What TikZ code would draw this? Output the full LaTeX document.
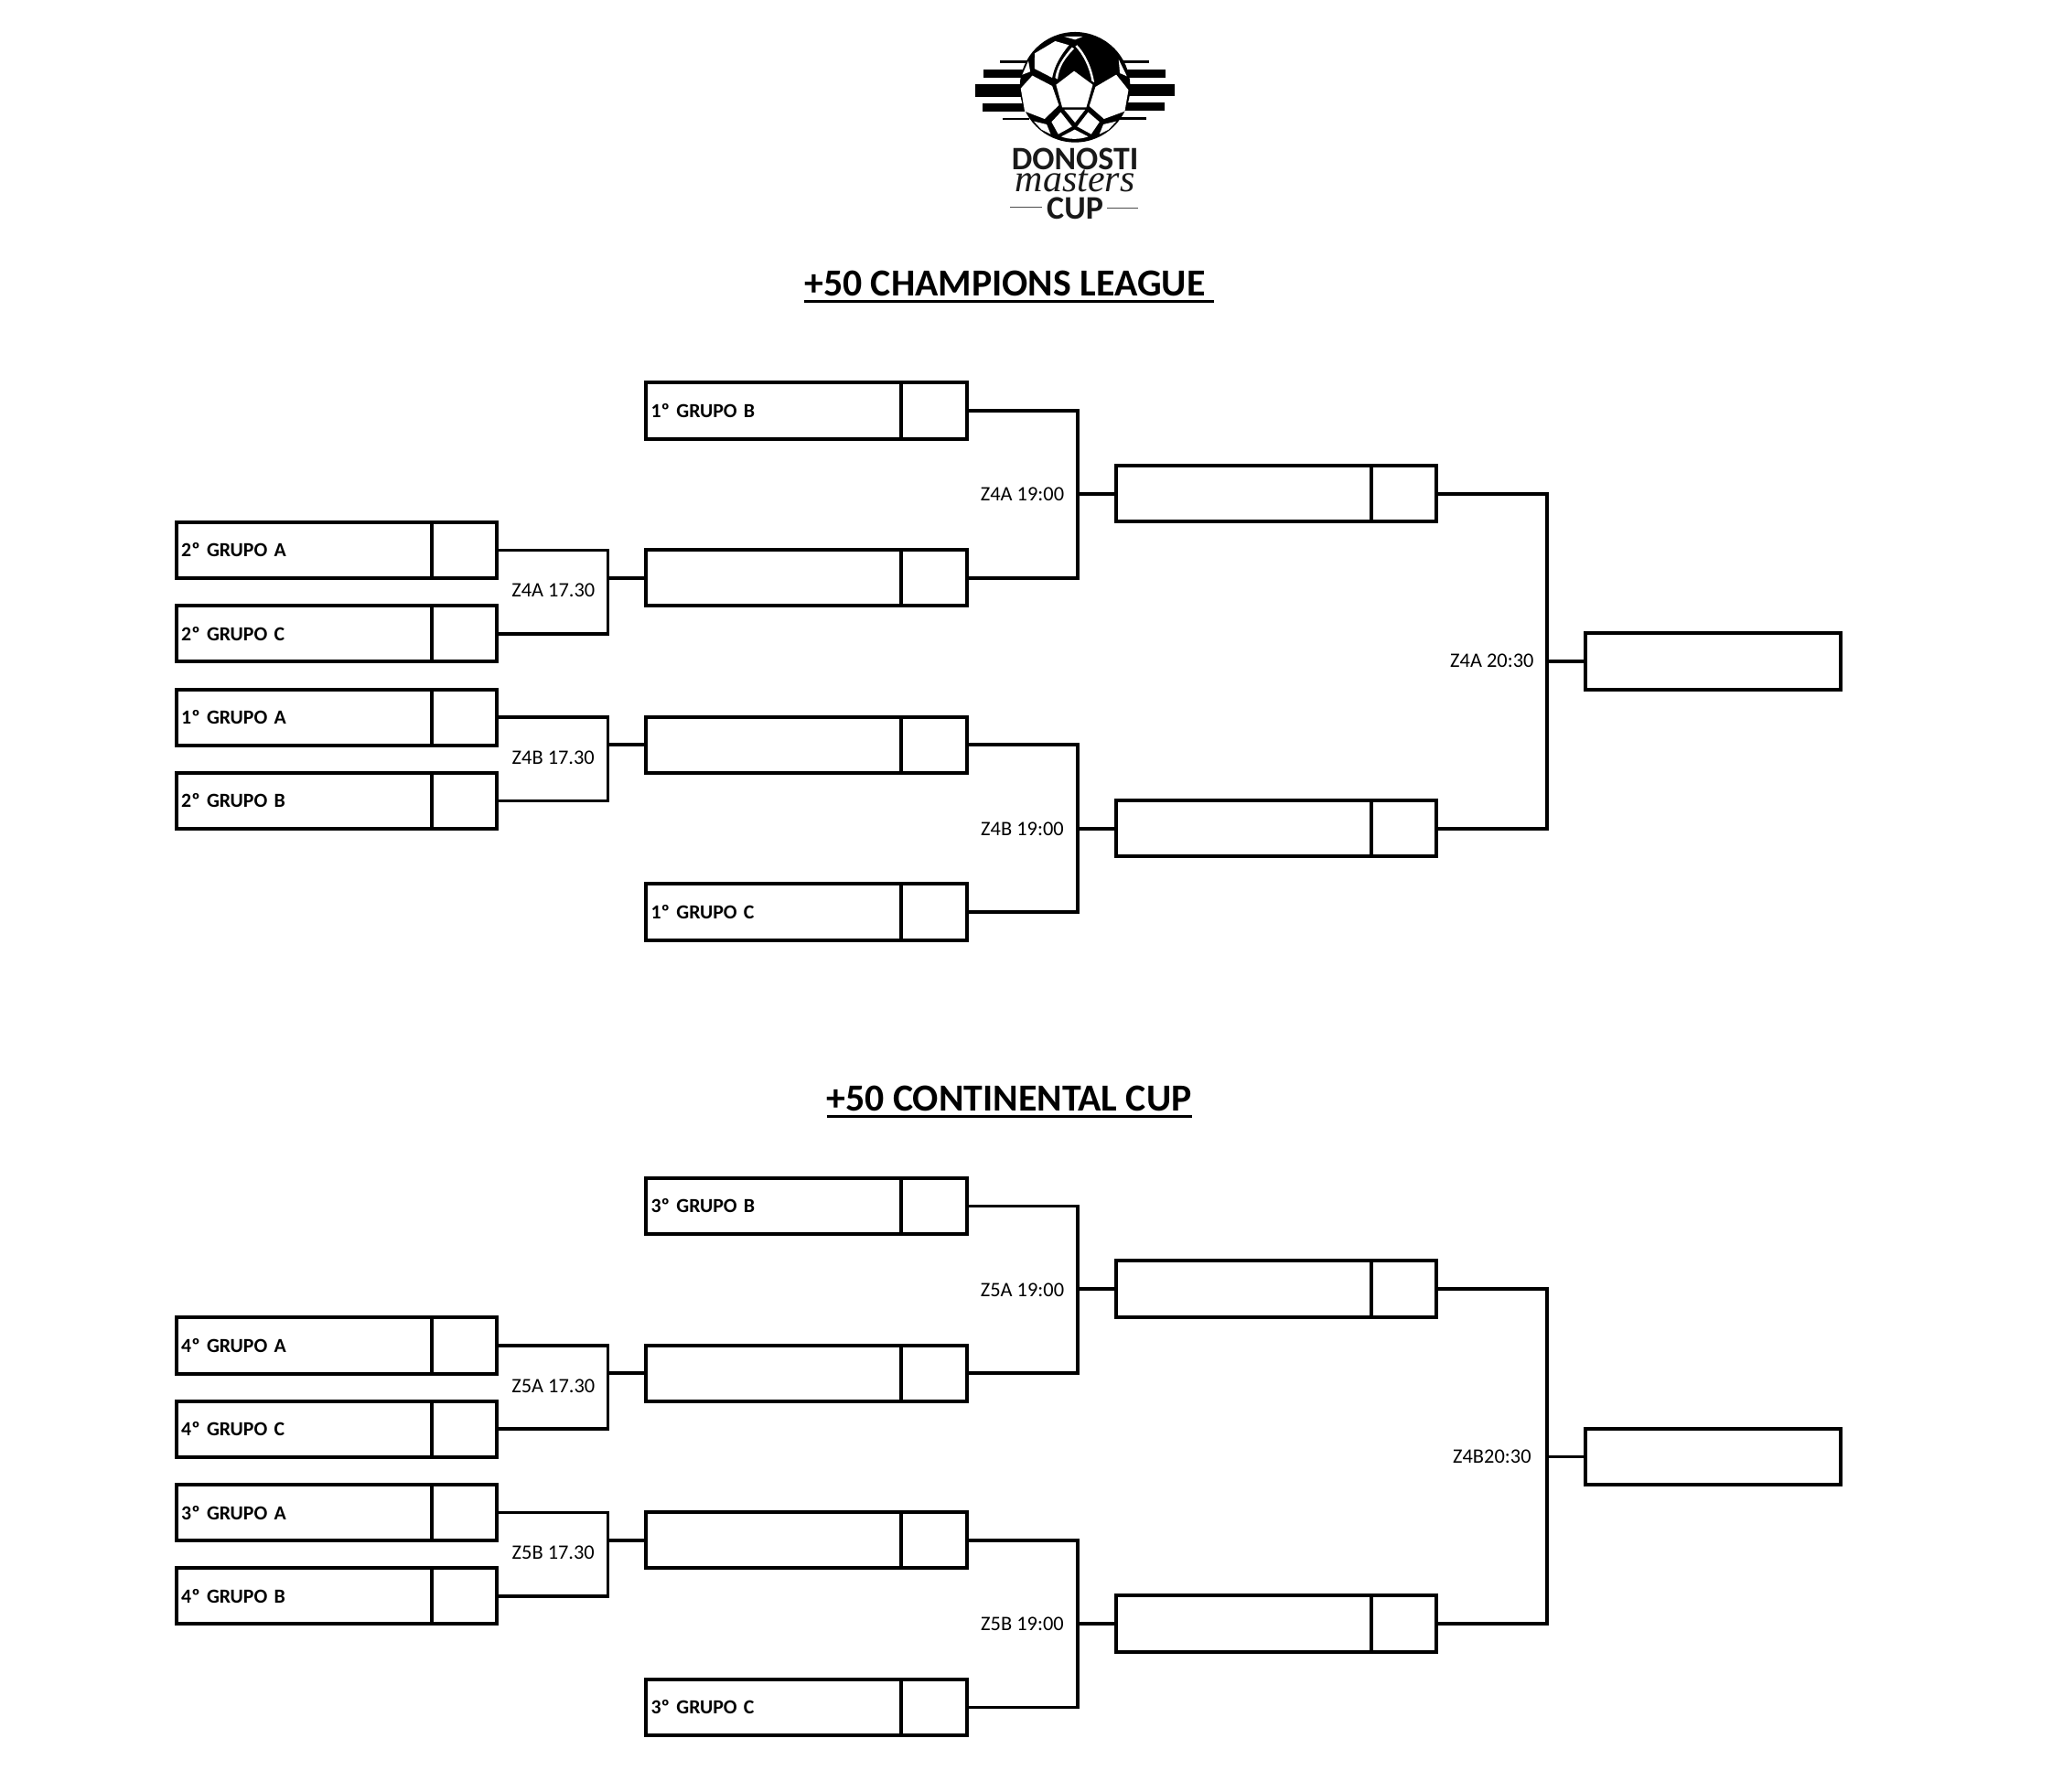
\documentclass[tikz,border=0pt]{standalone}
\usepackage{fontspec}
\setmainfont{Carlito}
\newfontfamily\logoscript{Liberation Serif}
\newcommand{\thickul}[1]{\vtop{\hbox{#1}\kern2.2pt\hrule height 1.2pt}}
\tikzset{
  x=0.719pt,y=-0.719pt,
  wire/.style={line width=1.9pt,line join=miter,line cap=rect},
  mainbox/.style={draw,line width=2pt,rectangle,outer sep=0pt,minimum width=139.5pt,minimum height=30.6pt,inner xsep=2.6pt,inner ysep=0pt,text width=134pt,align=left,font=\fontsize{10.9}{12}\selectfont\bfseries},
  scorebox/.style={draw,line width=2pt,rectangle,outer sep=0pt,minimum width=35.8pt,minimum height=30.6pt,inner sep=0pt},
  matchlabel/.style={font=\fontsize{11.2}{12}\selectfont,inner sep=0pt},
  titlelabel/.style={font=\fontsize{20.9}{24}\selectfont\bfseries,inner sep=0pt},
  logotext/.style={inner sep=0pt,text=black!90},
  panel/.style={fill=white}
}
\newcommand{\team}[4]{%
  \node[mainbox,anchor=north west] (#1) at (#2,#3) {#4};
  \node[scorebox,anchor=west] (#1-s) at (#1.east) {};
}
\newcommand{\bracket}[3]{%
  \coordinate (#3-j) at ([xshift=-20.85pt]#3.west);
  \draw[wire] (#1-s.east) -| (#3-j) |- (#2-s.east);
  \draw[wire] (#3-j) -- (#3.west);
}
\newcommand{\halfchart}[1]{%
  \team{#1c2}{848}{354}{}
  \team{#1c3}{848}{608.5}{}
  \node[mainbox,anchor=north west] (#1f) at (1205,481.5) {};
  \bracket{#1a1}{#1a2}{#1b2}
  \bracket{#1a3}{#1a4}{#1b3}
  \bracket{#1b1}{#1b2}{#1c2}
  \bracket{#1b3}{#1b4}{#1c3}
  \coordinate (#1f-j) at ([xshift=-20.85pt]#1f.west);
  \draw[wire] (#1c2-s.east) -| (#1f-j) |- (#1c3-s.east);
  \draw[wire] (#1f-j) -- (#1f.west);
}
\begin{document}
\begin{tikzpicture}
\useasboundingbox (0,0) rectangle (1568,1361.6);
% logo
\begin{scope}[shift={(723.2,13.9)},x=0.16667pt,y=-0.16667pt]
  \fill (160,138) rectangle (245,147);
  \fill (105,169) rectangle (240,195);
  \fill (77,217) rectangle (230,259);
  \fill (102,280) rectangle (240,305);
  \fill (168,326) rectangle (255,334);
  \fill (565,138) rectangle (648,147);
  \fill (570,168) rectangle (703,194);
  \fill (580,217) rectangle (731,255);
  \fill (570,277) rectangle (700,302);
  \fill (550,325) rectangle (638,333);
  \begin{scope}[shift={(180,30)}]
    \fill (225,196) circle (181);
    \fill[panel] (222,143) -- (283,188) -- (262,262) -- (183,262) -- (163,188) -- cycle;
    \fill[panel] (85,158) -- (150,192) -- (172,255) -- (125,300) -- (60,275) -- (47,200) -- cycle;
    \fill[panel] (360,155) -- (292,195) -- (272,258) -- (320,300) -- (388,275) -- (400,205) -- cycle;
    \fill[panel] (93,85) -- (160,45) -- (205,58) .. controls (175,95) and (158,125) .. (150,165) -- (92,135) -- cycle;
    \fill[panel] (215,65) .. controls (185,100) and (165,130) .. (160,165) -- (168,170) .. controls (172,130) and (192,100) .. (222,70) -- cycle;
    \fill[panel] (190,30) -- (250,30) -- (225,40) -- cycle;
    \fill[panel] (232,58) .. controls (258,85) and (280,130) .. (288,180) -- (280,176) .. controls (272,130) and (252,90) .. (226,62) -- cycle;
    \fill[panel] (72,110) -- (52,155) -- (78,145) -- cycle;
    \fill[panel] (368,105) -- (395,160) -- (372,150) -- cycle;
    \fill[panel] (190,270) -- (258,270) -- (225,312) -- cycle;
    \fill[panel] (178,278) -- (215,325) -- (170,350) -- (148,310) -- cycle;
    \fill[panel] (268,278) -- (232,325) -- (278,350) -- (305,310) -- cycle;
    \fill[panel] (224,335) -- (268,358) .. controls (240,368) and (205,368) .. (180,358) -- cycle;
    \fill[panel] (90,308) -- (132,318) -- (145,350) -- (115,335) -- cycle;
    \fill[panel] (360,308) -- (318,318) -- (305,350) -- (335,335) -- cycle;
  \end{scope}
  \node[logotext,font=\fontsize{17.9}{22}\selectfont\bfseries] (logoA) at (405,462) {DONOSTI};
  \node[logotext,font=\fontsize{21}{22}\selectfont\logoscript\itshape] (logoB) at (405,533) {masters};
  \node[logotext,font=\fontsize{18}{22}\selectfont\bfseries] (logoC) at (405,622) {CUP};
  \draw[line width=0.4pt,black!70] (192,620) -- (297,620);
  \draw[line width=0.4pt,black!70] (510,621) -- (612,621);
\end{scope}
% titles
\node[titlelabel,anchor=base] (t1) at (767,225) {\thickul{+50 CHAMPIONS LEAGUE\ }};
\node[titlelabel,anchor=base] (t2) at (767,844.5) {\thickul{+50 CONTINENTAL CUP}};
% upper chart
\team{pa1}{134}{397}{2º GRUPO A}
\team{pa2}{134}{460.5}{2º GRUPO C}
\team{pa3}{134}{524}{1º GRUPO A}
\team{pa4}{134}{587.5}{2º GRUPO B}
\team{pb1}{491}{291}{1º GRUPO B}
\team{pb2}{491}{418}{}
\team{pb3}{491}{545}{}
\team{pb4}{491}{672}{1º GRUPO C}
\halfchart{p}
\node[matchlabel] (pm1) at (420.5,449) {Z4A 17.30};
\node[matchlabel] (pm2) at (420.5,576) {Z4B 17.30};
\node[matchlabel] (pm3) at (777,376) {Z4A 19:00};
\node[matchlabel] (pm4) at (777,630) {Z4B 19:00};
\node[matchlabel] (pm5) at (1134,502.5) {Z4A 20:30};
% lower chart
\begin{scope}[shift={(0,604.5)}]
\team{qa1}{134}{397}{4º GRUPO A}
\team{qa2}{134}{460.5}{4º GRUPO C}
\team{qa3}{134}{524}{3º GRUPO A}
\team{qa4}{134}{587.5}{4º GRUPO B}
\team{qb1}{491}{291}{3º GRUPO B}
\team{qb2}{491}{418}{}
\team{qb3}{491}{545}{}
\team{qb4}{491}{672}{3º GRUPO C}
\halfchart{q}
\node[matchlabel] (qm1) at (420.5,449) {Z5A 17.30};
\node[matchlabel] (qm2) at (420.5,576) {Z5B 17.30};
\node[matchlabel] (qm3) at (777,376) {Z5A 19:00};
\node[matchlabel] (qm4) at (777,630) {Z5B 19:00};
\node[matchlabel] (qm5) at (1134,502.5) {Z4B20:30};
\end{scope}
\end{tikzpicture}
\end{document}
